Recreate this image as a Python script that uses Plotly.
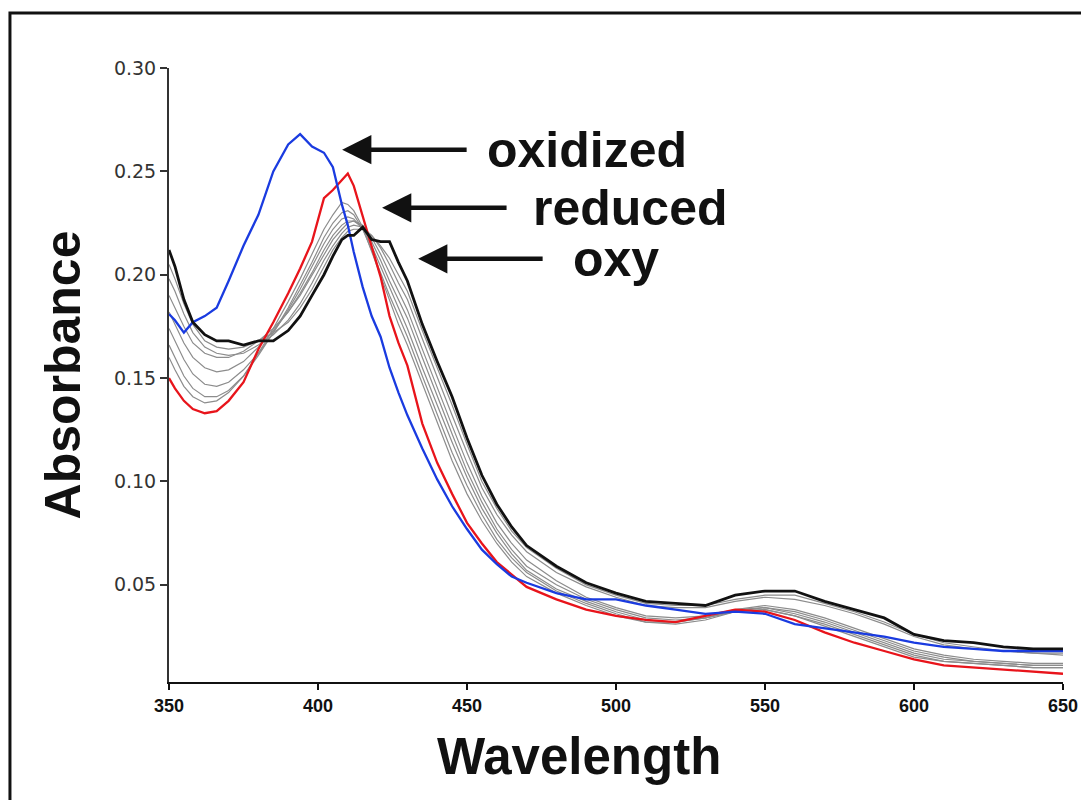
import plotly.graph_objects as go

wavelength = [350, 352, 355, 358, 362, 366, 370, 375, 380, 385, 390, 394, 398, 402, 405, 408, 410, 412, 415, 418,
              421, 424, 427, 430, 435, 440, 445, 450, 455, 460, 465, 470, 480, 490, 500, 510, 520, 530, 540, 550,
              560, 570, 580, 590, 600, 610, 620, 630, 640, 650]

oxy = [0.212, 0.204, 0.188, 0.177, 0.171, 0.168, 0.168, 0.166, 0.168, 0.168, 0.173, 0.180, 0.190, 0.200, 0.209, 0.217,
       0.219, 0.219, 0.223, 0.217, 0.216, 0.216, 0.206, 0.197, 0.176, 0.158, 0.141, 0.121, 0.103, 0.089, 0.078, 0.069,
       0.059, 0.051, 0.046, 0.042, 0.041, 0.040, 0.045, 0.047, 0.047, 0.042, 0.038, 0.034, 0.026, 0.023, 0.022, 0.020,
       0.019, 0.019]

oxidized = [0.181, 0.178, 0.172, 0.177, 0.180, 0.184, 0.197, 0.214, 0.229, 0.250, 0.263, 0.268, 0.262, 0.259, 0.252,
            0.234, 0.224, 0.211, 0.194, 0.180, 0.170, 0.155, 0.143, 0.132, 0.116, 0.101, 0.088, 0.077, 0.067, 0.060,
            0.054, 0.051, 0.046, 0.043, 0.043, 0.040, 0.038, 0.036, 0.037, 0.036, 0.031, 0.029, 0.027, 0.025, 0.022,
            0.020, 0.019, 0.018, 0.018, 0.018]

reduced = [0.150, 0.145, 0.139, 0.135, 0.133, 0.134, 0.139, 0.148, 0.164, 0.177, 0.191, 0.203, 0.216, 0.237, 0.241,
           0.246, 0.249, 0.243, 0.228, 0.213, 0.199, 0.180, 0.167, 0.156, 0.128, 0.109, 0.094, 0.080, 0.070, 0.061,
           0.055, 0.049, 0.043, 0.038, 0.035, 0.033, 0.032, 0.035, 0.038, 0.037, 0.033, 0.027, 0.022, 0.018, 0.014,
           0.011, 0.010, 0.009, 0.008, 0.007]

grey_1 = [0.205, 0.198, 0.186, 0.176, 0.168, 0.165, 0.164, 0.165, 0.168, 0.172, 0.177, 0.184, 0.193, 0.204, 0.212,
          0.218, 0.221, 0.222, 0.222, 0.219, 0.214, 0.208, 0.200, 0.192, 0.173, 0.155, 0.137, 0.118, 0.100, 0.087,
          0.076, 0.068, 0.058, 0.050, 0.045, 0.041, 0.040, 0.040, 0.043, 0.045, 0.045, 0.041, 0.037, 0.032, 0.026,
          0.022, 0.020, 0.018, 0.017, 0.017]
grey_2 = [0.198, 0.192, 0.181, 0.172, 0.165, 0.162, 0.161, 0.162, 0.166, 0.171, 0.178, 0.186, 0.196, 0.207, 0.214,
          0.220, 0.223, 0.224, 0.223, 0.219, 0.213, 0.205, 0.196, 0.188, 0.169, 0.150, 0.132, 0.114, 0.097, 0.084,
          0.074, 0.066, 0.056, 0.049, 0.044, 0.040, 0.039, 0.039, 0.042, 0.044, 0.043, 0.040, 0.036, 0.031, 0.025,
          0.021, 0.019, 0.018, 0.017, 0.016]
grey_3 = [0.190, 0.184, 0.175, 0.167, 0.162, 0.160, 0.160, 0.163, 0.168, 0.174, 0.182, 0.190, 0.200, 0.210, 0.217,
          0.222, 0.225, 0.226, 0.224, 0.218, 0.210, 0.201, 0.192, 0.183, 0.164, 0.145, 0.127, 0.109, 0.093, 0.080,
          0.070, 0.062, 0.052, 0.044, 0.039, 0.035, 0.034, 0.035, 0.038, 0.040, 0.038, 0.034, 0.029, 0.024, 0.019,
          0.016, 0.014, 0.013, 0.012, 0.012]
grey_4 = [0.182, 0.176, 0.167, 0.160, 0.155, 0.153, 0.154, 0.158, 0.165, 0.173, 0.182, 0.191, 0.201, 0.212, 0.219,
          0.224, 0.226, 0.226, 0.223, 0.216, 0.207, 0.197, 0.188, 0.179, 0.160, 0.141, 0.123, 0.105, 0.090, 0.077,
          0.067, 0.059, 0.050, 0.043, 0.038, 0.034, 0.033, 0.034, 0.038, 0.039, 0.037, 0.033, 0.028, 0.023, 0.018,
          0.015, 0.013, 0.012, 0.011, 0.011]
grey_5 = [0.174, 0.168, 0.159, 0.152, 0.147, 0.146, 0.148, 0.154, 0.162, 0.172, 0.183, 0.193, 0.204, 0.215, 0.222,
          0.227, 0.228, 0.227, 0.222, 0.214, 0.204, 0.194, 0.184, 0.174, 0.155, 0.137, 0.119, 0.102, 0.087, 0.075,
          0.065, 0.057, 0.048, 0.042, 0.037, 0.033, 0.032, 0.034, 0.037, 0.039, 0.036, 0.032, 0.027, 0.022, 0.017,
          0.014, 0.013, 0.012, 0.011, 0.011]
grey_6 = [0.166, 0.160, 0.151, 0.145, 0.141, 0.141, 0.144, 0.151, 0.161, 0.172, 0.184, 0.195, 0.206, 0.218, 0.225,
          0.230, 0.231, 0.229, 0.222, 0.212, 0.201, 0.190, 0.180, 0.170, 0.151, 0.132, 0.114, 0.098, 0.084, 0.072,
          0.063, 0.056, 0.047, 0.041, 0.036, 0.032, 0.032, 0.034, 0.037, 0.038, 0.035, 0.031, 0.026, 0.021, 0.016,
          0.013, 0.012, 0.011, 0.010, 0.010]
grey_7 = [0.160, 0.154, 0.146, 0.141, 0.138, 0.139, 0.143, 0.151, 0.162, 0.174, 0.187, 0.198, 0.210, 0.222, 0.229,
          0.235, 0.234, 0.231, 0.223, 0.211, 0.199, 0.187, 0.176, 0.166, 0.147, 0.128, 0.110, 0.094, 0.081, 0.070,
          0.061, 0.054, 0.046, 0.040, 0.035, 0.032, 0.031, 0.033, 0.037, 0.038, 0.035, 0.030, 0.025, 0.020, 0.015,
          0.013, 0.012, 0.011, 0.010, 0.010]
intermediates = [grey_1, grey_2, grey_3, grey_4, grey_5, grey_6, grey_7]

x_ticks = [350, 400, 450, 500, 550, 600, 650]
y_ticks = [0.05, 0.10, 0.15, 0.20, 0.25, 0.30]
y_tick_text = ["0.05", "0.10", "0.15", "0.20", "0.25", "0.30"]

labels = ["oxidized", "reduced", "oxy"]
arrow_tip_wl = [408.1, 421.5, 433.6]
arrow_tip_abs = [0.2605, 0.2324, 0.2077]
label_wl = [456.0, 471.5, 485.0]

X_RANGE = [350, 650]
Y_RANGE = [0.003, 0.30]

fig = go.Figure()
for g in intermediates:
    fig.add_trace(go.Scatter(x=wavelength, y=g, mode="lines",
                             line=dict(color="#8c8c8c", width=1.2), hoverinfo="skip"))
fig.add_trace(go.Scatter(x=wavelength, y=reduced, mode="lines", line=dict(color="#e8141b", width=2.3)))
fig.add_trace(go.Scatter(x=wavelength, y=oxidized, mode="lines", line=dict(color="#1a3be0", width=2.3)))
fig.add_trace(go.Scatter(x=wavelength, y=oxy, mode="lines", line=dict(color="#111111", width=2.8)))

bold = dict(family="Liberation Sans, Arial, Helvetica, sans-serif", color="#111111", weight=700)

annotations = []
for lab, twl, tab, lwl in zip(labels, arrow_tip_wl, arrow_tip_abs, label_wl):
    annotations.append(dict(x=twl, y=tab, xref="x", yref="y", text="", showarrow=True,
                            ax=126, ay=0, axref="pixel", ayref="pixel",
                            arrowhead=2, arrowsize=1.3, arrowwidth=4.5, arrowcolor="#111111"))
    annotations.append(dict(x=lwl, y=tab, xref="x", yref="y", text=lab, showarrow=False,
                            xanchor="left", yanchor="middle", font=dict(size=50, **bold)))

annotations.append(dict(x=0.4586, y=-0.122, xref="paper", yref="paper", text="Wavelength",
                        showarrow=False, xanchor="center", yanchor="middle", font=dict(size=51, **bold)))

fig.update_layout(
    width=1081, height=792,
    margin=dict(l=161, r=26, t=60, b=118),
    plot_bgcolor="white", paper_bgcolor="white",
    showlegend=False,
    annotations=annotations,
    xaxis=dict(range=X_RANGE, tickvals=x_ticks, showline=True, linecolor="#111111", linewidth=2,
               ticks="outside", ticklen=6, tickwidth=2, tickcolor="#111111",
               tickfont=dict(family="Liberation Sans Narrow, Arial Narrow, Liberation Sans, Arial",
                             size=18, color="#111111", weight=700),
               showgrid=False, zeroline=False, automargin=False),
    yaxis=dict(range=Y_RANGE, tickvals=y_ticks, ticktext=y_tick_text, showline=True, linecolor="#333333",
               linewidth=2, ticks="outside", ticklen=7, tickwidth=2, tickcolor="#333333",
               tickfont=dict(family="DejaVu Sans, Verdana, sans-serif", size=19, color="#333333"),
               showgrid=False, zeroline=False, automargin=False,
               title=dict(text="Absorbance", font=dict(size=50, **bold), standoff=17)),
    xaxis2=dict(range=X_RANGE, tickvals=x_ticks, overlaying="x", anchor="y", side="bottom",
                ticks="inside", ticklen=6, tickwidth=2, tickcolor="#111111",
                showticklabels=False, showline=False, showgrid=False, zeroline=False),
    yaxis2=dict(range=Y_RANGE, tickvals=y_ticks, overlaying="y", anchor="x", side="left",
                ticks="inside", ticklen=7, tickwidth=2, tickcolor="#333333",
                showticklabels=False, showline=False, showgrid=False, zeroline=False),
    shapes=[dict(type="rect", xref="paper", yref="paper",
                 x0=-0.1779, x1=1.05, y0=-0.25, y1=1.0896,
                 line=dict(color="#111111", width=3), fillcolor="rgba(0,0,0,0)", layer="above")],
)

fig.write_html("out.html")
